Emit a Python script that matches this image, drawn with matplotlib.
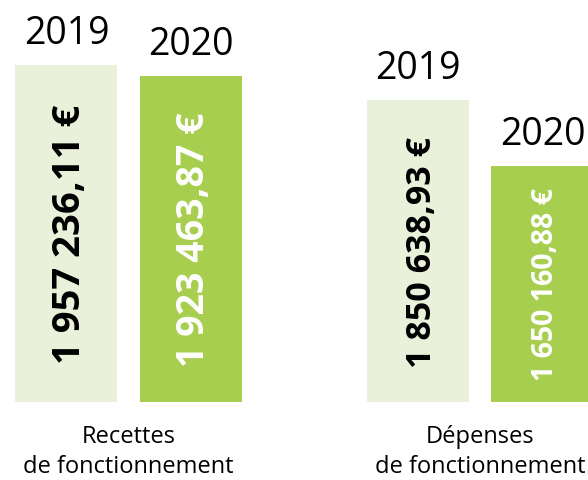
import matplotlib.pyplot as plt

# Data
categories = ["Recettes\nde fonctionnement", "Dépenses\nde fonctionnement"]
years = ["2019", "2020"]
values_2019 = [1957236.11, 1850638.93]
values_2020 = [1923463.87, 1650160.88]
value_labels_2019 = ["1 957 236,11 €", "1 850 638,93 €"]
value_labels_2020 = ["1 923 463,87 €", "1 650 160,88 €"]

LIGHT = "#E9F1DA"
GREEN = "#A8CE4F"
FONT = "Open Sans"
Y_MIN = 929000

fig = plt.figure(figsize=(5.88, 4.81), dpi=100)
ax = fig.add_axes([0, 78 / 481, 1, 403 / 481])

width = 0.29
offset = 0.177
x = list(range(len(categories)))

series = [
    (values_2019, value_labels_2019, LIGHT, "black", -offset, [27.5, 24.5]),
    (values_2020, value_labels_2020, GREEN, "white", offset, [27, 20.5]),
]

for (vals, labels, color, txtcolor, dx, sizes), year in zip(series, years):
    xs = [xi + dx for xi in x]
    ax.bar(xs, vals, width=width, color=color)
    for bx, v, lab, fs in zip(xs, vals, labels, sizes):
        mid = Y_MIN + (v - Y_MIN) / 2
        ax.text(bx + 0.01, mid, lab, rotation=90, ha="center", va="center",
                color=txtcolor, fontsize=fs, fontweight="bold", family=FONT)
        ax.annotate(year, (bx, v), xytext=(0, 22), textcoords="offset pixels",
                    ha="center", va="baseline", fontsize=27, family=FONT)

for xi, cat in zip(x, categories):
    ax.text(xi, -0.122, cat, transform=ax.get_xaxis_transform(), ha="center",
            va="center", fontsize=17, family=FONT, linespacing=1.3)

ax.set_xlim(-0.366, 1.3066)
ax.set_ylim(Y_MIN, 2159000)
ax.axis("off")

fig.savefig("out.png", dpi=100)
